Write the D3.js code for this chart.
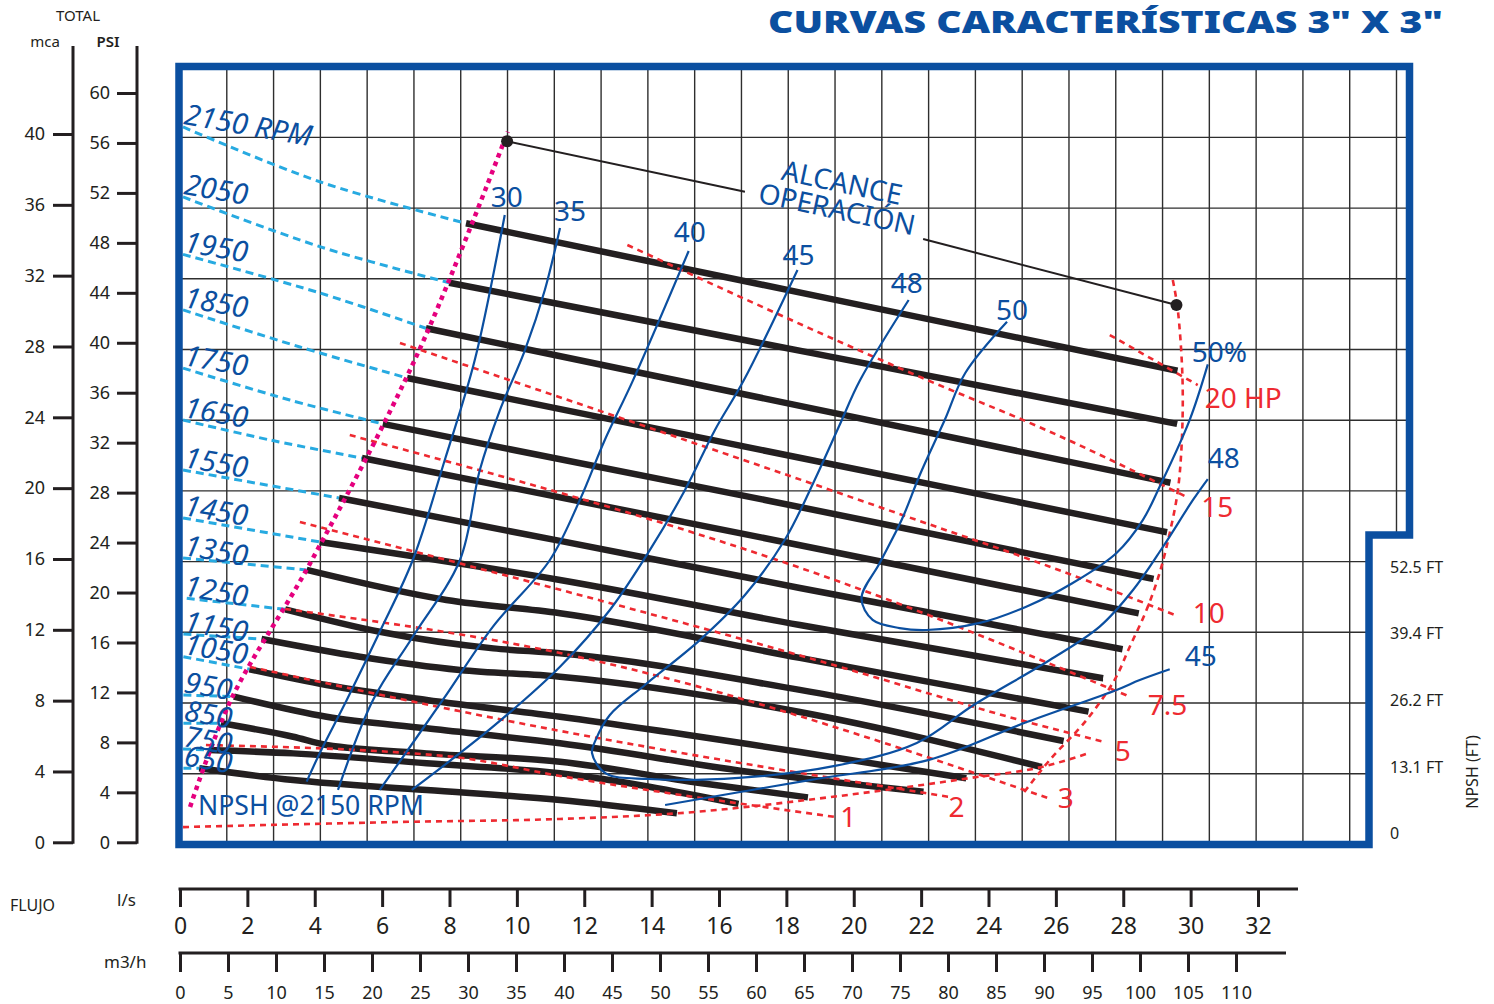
<!DOCTYPE html>
<html>
<head>
<meta charset="utf-8">
<script src="https://cdnjs.cloudflare.com/ajax/libs/d3/7.8.5/d3.min.js"></script>
<style>
  body { margin: 0; background: #fff; }
  svg { display: block; }
  text { font-family: 'Noto Sans', 'Open Sans', sans-serif; }
</style>
</head>
<body>
<svg id="chart" width="1494" height="1004"></svg>
<script>
// ---- datos (caudal en l/s, altura en m) ----
const lpsTicks = [0, 2, 4, 6, 8, 10, 12, 14, 16, 18, 20, 22, 24, 26, 28, 30, 32]
const m3hTicks = [0, 5, 10, 15, 20, 25, 30, 35, 40, 45, 50, 55, 60, 65, 70, 75, 80, 85, 90, 95, 100, 105, 110]
const mcaTicks = [0, 4, 8, 12, 16, 20, 24, 28, 32, 36, 40]
const psiTicks = [0, 4, 8, 12, 16, 20, 24, 28, 32, 36, 40, 44, 48, 52, 56, 60]
const npshTicks = [0, 13.1, 26.2, 39.4, 52.5]
const npshTickLabels = ['0', '13.1 FT', '26.2 FT', '39.4 FT', '52.5 FT']

const rpmSpeeds = [2150, 2050, 1950, 1850, 1750, 1650, 1550, 1450, 1350, 1250, 1150, 1050, 950, 850, 750, 650]

// tramo punteado celeste (desde caudal cero hasta el caudal minimo)
const rpmShutoff = [
  [[0.09, 40.59], [4.15, 37.49], [8.49, 35.14]],
  [[0.09, 36.63], [4.15, 33.82], [7.99, 31.78]],
  [[0.09, 33.38], [4.15, 31.20], [7.30, 29.20]],
  [[0.09, 30.24], [3.56, 28.14], [6.74, 26.39]],
  [[0.09, 26.95], [3.26, 25.14], [6.02, 23.79]],
  [[0.09, 24.01], [2.67, 22.88], [5.40, 21.86]],
  [[0.09, 21.18], [4.72, 19.60]],
  [[0.09, 18.47], [4.15, 17.11]],
  [[0.09, 16.20], [3.76, 15.53]],
  [[0.20, 13.92], [3.12, 13.30]],
  [[0.10, 11.90], [2.42, 11.62]],
  [[0.10, 10.62], [2.06, 9.91]],
  [[0.10, 8.45], [1.60, 8.36]],
  [[0.10, 6.85], [1.22, 6.85]],
  [[0.09, 5.40], [0.87, 5.34]],
  [[0.10, 4.31], [0.57, 4.31]]
]

// curvas H-Q (trazo grueso)
const rpmCurves = [
  [[8.49, 35.14], [18.99, 30.99], [29.61, 26.80]],
  [[7.99, 31.78], [18.69, 27.82], [29.60, 23.79]],
  [[7.30, 29.20], [18.40, 24.81], [29.40, 20.46]],
  [[6.74, 26.39], [18.10, 21.99], [29.30, 17.66]],
  [[6.02, 23.79], [17.51, 19.43], [28.90, 15.02]],
  [[5.40, 21.86], [16.91, 17.50], [28.46, 13.07]],
  [[4.72, 19.60], [11.28, 17.17], [18.40, 14.51], [27.98, 11.04]],
  [[4.15, 17.11], [11.28, 14.96], [18.40, 12.41], [27.40, 9.40]],
  [[3.76, 15.53], [7.91, 13.83], [11.28, 13.08], [18.40, 10.55], [26.97, 7.51]],
  [[3.12, 13.30], [5.93, 12.03], [9.30, 11.09], [11.28, 10.81], [18.40, 8.74], [26.23, 5.85]],
  [[2.42, 11.62], [5.34, 10.62], [8.31, 9.87], [11.28, 9.49], [18.40, 7.49], [25.58, 4.38]],
  [[2.06, 9.91], [4.35, 9.02], [7.32, 8.17], [11.28, 7.22], [18.40, 5.23], [23.34, 3.74]],
  [[1.60, 8.36], [4.35, 7.22], [7.32, 6.57], [11.28, 5.72], [16.91, 4.10], [22.07, 2.98]],
  [[1.22, 6.85], [3.36, 6.09], [4.35, 5.62], [7.32, 5.15], [11.28, 4.68], [15.43, 3.47], [18.64, 2.66]],
  [[0.87, 5.34], [3.36, 5.15], [7.32, 4.59], [11.28, 4.02], [16.58, 2.29]],
  [[0.57, 4.31], [3.36, 3.64], [7.32, 3.08], [11.28, 2.51], [14.75, 1.76]]
]

// rendimientos (%)
const effLabels = ['30', '35', '40', '45', '48', '50']
const effCurves = [
  [[9.64, 35.61], [8.75, 27.40], [7.86, 21.75], [6.91, 16.09], [5.93, 12.03], [4.95, 8.17], [4.15, 5.17], [3.76, 3.55]],
  [[11.28, 34.88], [10.83, 31.37], [10.24, 27.97], [9.50, 24.58], [8.90, 21.18], [8.31, 16.09], [6.91, 11.75], [5.73, 8.17], [4.69, 3.08]],
  [[15.10, 33.57], [13.45, 26.27], [12.61, 22.88], [11.87, 19.49], [10.98, 16.09], [9.29, 12.32], [7.80, 8.17], [5.93, 3.08]],
  [[18.33, 32.50], [16.74, 26.27], [15.88, 23.45], [14.99, 20.05], [13.95, 16.66], [12.76, 13.26], [11.28, 10.05], [9.29, 6.66], [6.88, 3.08]],
  [[21.63, 30.80], [20.19, 26.27], [19.58, 23.73], [18.84, 20.62], [17.95, 17.22], [16.77, 14.11], [15.43, 11.56], [13.80, 9.02],
   [12.76, 7.32], [12.34, 5.91], [12.23, 5.17], [12.64, 4.02], [13.92, 3.70], [16.58, 3.76], [19.44, 4.44], [21.87, 5.74],
   [23.56, 7.89], [25.82, 10.43], [27.30, 12.32], [28.29, 14.39], [29.18, 16.84], [30.07, 19.49], [30.51, 20.67]],
  [[24.55, 29.57], [23.31, 26.67], [22.70, 24.01], [21.96, 20.90], [21.42, 18.35], [20.77, 15.92], [20.23, 13.92], [20.56, 12.70],
   [21.36, 12.24], [22.16, 12.13], [23.74, 12.53], [25.12, 13.45], [26.50, 14.79], [27.80, 16.49], [28.58, 18.35], [29.08, 20.24],
   [29.97, 24.01], [30.51, 27.16]]
]
const eff45Right = [[14.40, 2.23], [18.69, 3.64], [22.23, 4.78], [25.04, 6.85], [27.80, 8.74], [28.49, 9.30], [29.38, 9.91]]
const effRightLabels = ['50%', '48', '45']

// potencia (HP)
const hpLabels = ['20 HP', '15', '10', '7.5', '5', '3', '2', '1']
const hpLines = [
  [[27.60, 28.82], [30.21, 25.99]],
  [[13.28, 33.91], [22.06, 26.37], [25.82, 23.35], [29.87, 19.67]],
  [[6.53, 28.37], [21.86, 18.36], [25.82, 15.71], [29.53, 12.98]],
  [[5.04, 23.16], [19.58, 14.86], [28.19, 8.36]],
  [[3.56, 18.24], [19.58, 10.05], [24.93, 7.04], [27.45, 5.79]],
  [[3.12, 13.32], [11.28, 10.83], [25.76, 2.63]],
  [[2.08, 10.04], [11.28, 6.42], [22.93, 2.66]],
  [[0.77, 5.62], [7.97, 4.98], [11.28, 3.87], [19.54, 1.53]]
]

const npshCurve = [[0.09, 0.98], [6.53, 1.27], [11.28, 1.44], [14.78, 1.76], [19.32, 2.68], [23.47, 3.76], [25.58, 4.38], [26.96, 5.15]]
const maxFlowLine = [[29.47, 31.93], [29.61, 30.40], [29.76, 26.27], [29.73, 22.48], [29.61, 19.88], [29.38, 17.62], [29.08, 15.36],
  [28.69, 13.26], [28.19, 11.17], [27.74, 9.30], [26.91, 7.04], [25.82, 4.78], [24.99, 2.79]]
const minFlowLine = [[0.30, 2.12], [1.51, 8.17], [3.86, 15.90], [7.06, 27.79], [9.73, 40.32]]
const rangePoints = [[9.71, 39.78], [29.58, 30.52]]
const rangeLeaders = [[[9.71, 39.78], [16.77, 36.93]], [[22.06, 34.25], [29.58, 30.52]]]

// ---- escalas ----
const svg = d3.select('#chart')
const x = d3.scaleLinear().domain([0, 32]).range([180, 1258])
const y = d3.scaleLinear().domain([0, 40]).range([844.4, 137.4])
const xM3h = d3.scaleLinear().domain([0, 110]).range([180, 1236])
const yMca = d3.scaleLinear().domain([0, 40]).range([842.3, 134])
const yPsi = d3.scaleLinear().domain([0, 60]).range([842.3, 93])
const yFt = d3.scaleLinear().domain([0, 52.5]).range([833, 566.7])

const BLUE = '#0b4fa0'
const RED = '#ee2a31'
const INK = '#231f20'

const smooth = d3.line().x(d => x(d[0])).y(d => y(d[1])).curve(d3.curveCatmullRom.alpha(0.5))
const mono = d3.line().x(d => x(d[0])).y(d => y(d[1])).curve(d3.curveMonotoneX)

// marco
const framePath = 'M179,66.5 H1409.5 V535 H1369 V844.5 H179 Z'
svg.append('clipPath').attr('id', 'plotClip').append('path').attr('d', framePath)
const plot = svg.append('g').attr('clip-path', 'url(#plotClip)')

// cuadricula: cada 5 m3/h y cada 4 m
const gridFlows = d3.range(1, 27).map(k => k * 5 / 3.6)
const gridHeads = d3.range(1, 11).map(k => k * 4)
plot.selectAll('.gv').data(gridFlows).join('line')
  .attr('x1', d => x(d)).attr('x2', d => x(d))
  .attr('y1', 66).attr('y2', d => x(d) > 1369 ? 535 : 845)
  .attr('stroke', '#2e2e2e').attr('stroke-width', 1.4)
plot.selectAll('.gh').data(gridHeads).join('line')
  .attr('x1', 179).attr('x2', d => y(d) < 535 ? 1410 : 1369)
  .attr('y1', d => y(d)).attr('y2', d => y(d))
  .attr('stroke', '#2e2e2e').attr('stroke-width', 1.4)

// tramos celestes
plot.selectAll('.shut').data(rpmShutoff).join('path')
  .attr('d', smooth).attr('fill', 'none')
  .attr('stroke', '#27aae1').attr('stroke-width', 3).attr('stroke-dasharray', '8,5')

// curvas H-Q
plot.selectAll('.hq').data(rpmCurves).join('path')
  .attr('d', mono).attr('fill', 'none')
  .attr('stroke', INK).attr('stroke-width', 6.5)

// potencia, NPSH y alcance maximo
plot.selectAll('.hp').data(hpLines).join('path')
  .attr('d', mono).attr('fill', 'none')
  .attr('stroke', RED).attr('stroke-width', 2.6).attr('stroke-dasharray', '6,5')
plot.append('path').datum(npshCurve).attr('d', mono).attr('fill', 'none')
  .attr('stroke', RED).attr('stroke-width', 2.6).attr('stroke-dasharray', '6,5')
plot.append('path').datum(maxFlowLine).attr('d', smooth).attr('fill', 'none')
  .attr('stroke', RED).attr('stroke-width', 2.6).attr('stroke-dasharray', '6,5')

// rendimientos
plot.selectAll('.eff').data(effCurves).join('path')
  .attr('d', smooth).attr('fill', 'none')
  .attr('stroke', BLUE).attr('stroke-width', 2.2)
plot.append('path').datum(eff45Right).attr('d', smooth).attr('fill', 'none')
  .attr('stroke', BLUE).attr('stroke-width', 2.2)

// caudal minimo
plot.append('path').datum(minFlowLine).attr('d', smooth).attr('fill', 'none')
  .attr('stroke', '#e5007e').attr('stroke-width', 4.5).attr('stroke-dasharray', '4.5,4.5')

// alcance de operacion
plot.selectAll('.lead').data(rangeLeaders).join('line')
  .attr('x1', d => x(d[0][0])).attr('y1', d => y(d[0][1]))
  .attr('x2', d => x(d[1][0])).attr('y2', d => y(d[1][1]))
  .attr('stroke', INK).attr('stroke-width', 2)
plot.selectAll('.dot').data(rangePoints).join('circle')
  .attr('cx', d => x(d[0])).attr('cy', d => y(d[1])).attr('r', 6).attr('fill', INK)

plot.append('g').attr('transform', 'translate(842,182.5) rotate(12)')
  .append('text').attr('y', 10).attr('text-anchor', 'middle')
  .attr('font-size', 28).attr('fill', BLUE).text('ALCANCE')
plot.append('g').attr('transform', 'translate(837,209) rotate(12)')
  .append('text').attr('y', 10).attr('text-anchor', 'middle')
  .attr('font-size', 28).attr('fill', BLUE).text('OPERACIÓN')

// etiquetas RPM
plot.selectAll('.rpmlab').data(rpmSpeeds).join('text')
  .attr('transform', (d, i) => `translate(183,${y(rpmShutoff[i][0][1]) - 3}) rotate(10)`)
  .attr('font-size', 29).attr('font-style', 'italic').attr('fill', BLUE)
  .text((d, i) => i === 0 ? d + ' RPM' : d)

// etiquetas de rendimiento
const effLabelOffsets = [[2, -8], [10, -7], [1, -9], [1, -5], [-2, -7], [5, -2]]
plot.selectAll('.efflab').data(effLabels).join('text')
  .attr('x', (d, i) => x(effCurves[i][0][0]) + effLabelOffsets[i][0])
  .attr('y', (d, i) => y(effCurves[i][0][1]) + effLabelOffsets[i][1])
  .attr('text-anchor', 'middle').attr('font-size', 28).attr('fill', BLUE).text(d => d)
const rightEnds = [effCurves[5][effCurves[5].length - 1], effCurves[4][effCurves[4].length - 1], eff45Right[eff45Right.length - 1]]
const rightOffsets = [[-16, -2], [0, -11], [15, -3]]
plot.selectAll('.effr').data(effRightLabels).join('text')
  .attr('x', (d, i) => x(rightEnds[i][0]) + rightOffsets[i][0])
  .attr('y', (d, i) => y(rightEnds[i][1]) + rightOffsets[i][1])
  .attr('font-size', 28).attr('fill', BLUE).text(d => d)

// etiquetas HP
const hpOffsets = [[7, 23], [15, 20], [18, 8], [18, 18], [10, 19], [10, 10], [-4, 20], [2, 10]]
plot.selectAll('.hplab').data(hpLabels).join('text')
  .attr('x', (d, i) => x(hpLines[i][hpLines[i].length - 1][0]) + hpOffsets[i][0])
  .attr('y', (d, i) => y(hpLines[i][hpLines[i].length - 1][1]) + hpOffsets[i][1])
  .attr('font-size', 28).attr('fill', RED).text(d => d)

plot.append('text').attr('x', 198).attr('y', 815).attr('font-size', 27)
  .attr('textLength', 226).attr('lengthAdjust', 'spacingAndGlyphs')
  .attr('fill', BLUE).text('NPSH @2150 RPM')

// marco azul
svg.append('path').attr('d', framePath).attr('fill', 'none')
  .attr('stroke', BLUE).attr('stroke-width', 7.5).attr('stroke-linejoin', 'miter')

// titulo
svg.append('text').attr('x', 768).attr('y', 33)
  .attr('font-size', 30).attr('font-weight', 900).attr('fill', BLUE)
  .attr('textLength', 675).attr('lengthAdjust', 'spacingAndGlyphs')
  .text('CURVAS CARACTERÍSTICAS 3" X 3"')

// ---- ejes ----
function styleAxis (g, size) {
  g.select('.domain').remove()
  g.selectAll('.tick line').attr('stroke', INK).attr('stroke-width', 3)
  g.selectAll('.tick text').attr('fill', INK).attr('font-size', size)
    .style('font-family', "'Noto Sans', sans-serif")
}

svg.append('g').attr('transform', 'translate(73,0)')
  .call(d3.axisLeft(yMca).tickValues(mcaTicks).tickSize(20).tickPadding(8))
  .call(styleAxis, 18)
svg.append('g').attr('transform', 'translate(137,0)')
  .call(d3.axisLeft(yPsi).tickValues(psiTicks).tickSize(20).tickPadding(7))
  .call(styleAxis, 18)
svg.selectAll('.vaxis').data([73, 137]).join('line')
  .attr('x1', d => d).attr('x2', d => d).attr('y1', 46).attr('y2', 843.8)
  .attr('stroke', INK).attr('stroke-width', 3)

svg.append('g').attr('transform', 'translate(0,889)')
  .call(d3.axisBottom(x).tickValues(lpsTicks).tickSize(18).tickPadding(11))
  .call(styleAxis, 23)
svg.append('g').attr('transform', 'translate(0,953)')
  .call(d3.axisBottom(xM3h).tickValues(m3hTicks).tickSize(19).tickPadding(14))
  .call(styleAxis, 18)
svg.append('line').attr('x1', 178.5).attr('x2', 1298).attr('y1', 889).attr('y2', 889)
  .attr('stroke', INK).attr('stroke-width', 3)
svg.append('line').attr('x1', 178.5).attr('x2', 1286).attr('y1', 953).attr('y2', 953)
  .attr('stroke', INK).attr('stroke-width', 3)

// escala NPSH en pies
svg.selectAll('.ft').data(npshTicks).join('text')
  .attr('x', 1390).attr('y', d => yFt(d) + 6)
  .attr('font-size', 16).attr('fill', INK)
  .text((d, i) => npshTickLabels[i])
svg.append('text').attr('transform', 'translate(1478,772) rotate(-90)')
  .attr('text-anchor', 'middle').attr('font-size', 16).attr('fill', INK).text('NPSH (FT)')

// rotulos de ejes
svg.append('text').attr('x', 78).attr('y', 21).attr('text-anchor', 'middle')
  .attr('font-size', 15).attr('fill', INK).text('TOTAL')
svg.append('text').attr('x', 45).attr('y', 47).attr('text-anchor', 'middle')
  .attr('font-size', 15).attr('fill', INK).text('mca')
svg.append('text').attr('x', 108).attr('y', 47).attr('text-anchor', 'middle')
  .attr('font-size', 15).attr('font-weight', 600).attr('fill', INK).text('PSI')
svg.append('text').attr('x', 10).attr('y', 911)
  .attr('font-size', 16).attr('fill', INK).text('FLUJO')
svg.append('text').attr('x', 117).attr('y', 906)
  .attr('font-size', 17).attr('fill', INK).text('l/s')
svg.append('text').attr('x', 104).attr('y', 968)
  .attr('font-size', 17).attr('fill', INK).text('m3/h')
</script>
</body>
</html>
